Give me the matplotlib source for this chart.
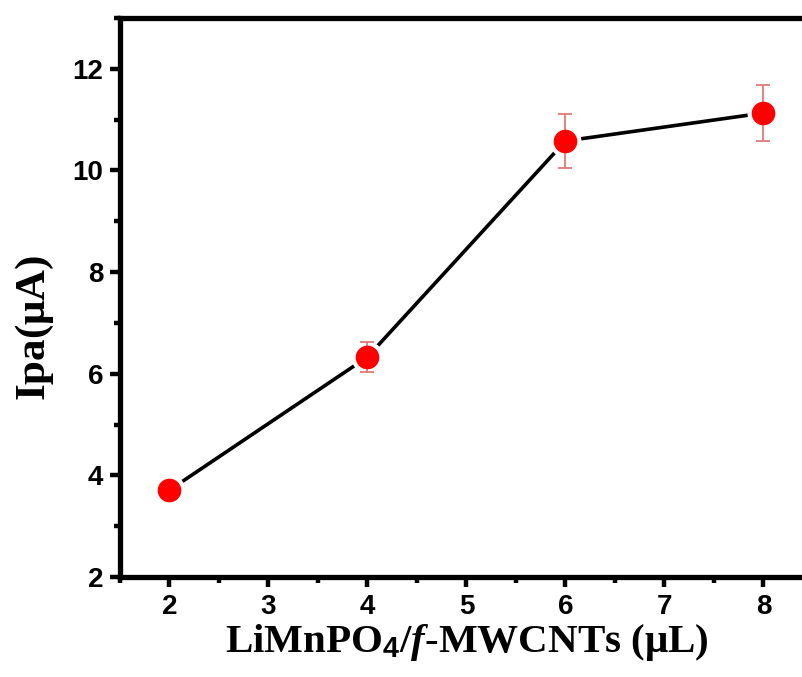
import matplotlib
matplotlib.use('Agg')
from matplotlib import pyplot as plt
from matplotlib.ticker import MultipleLocator

# volume of LiMnPO4/f-MWCNTs (uL) vs anodic peak current (uA)
volume = [2, 4, 6, 8]
ipa = [3.71, 6.33, 10.58, 11.13]
ipa_err = [0.0, 0.30, 0.53, 0.55]

plt.rcParams['mathtext.fontset'] = 'custom'
plt.rcParams['mathtext.bf'] = 'Liberation Sans:bold'
plt.rcParams['mathtext.it'] = 'Liberation Serif:italic:bold'
plt.rcParams['mathtext.rm'] = 'Liberation Serif:bold'

fig = plt.figure(figsize=(8.02, 6.77), dpi=100)
ax = fig.add_axes([0.1496, 0.1477, 0.864, 0.8257])

ax.plot(volume, ipa, c='black', lw=2.6, zorder=1)
ax.plot(volume, ipa, 'o', ms=22, mfc='white', mec='white', zorder=2)
ax.errorbar(volume, ipa, yerr=ipa_err, fmt='none', ecolor='#e07a7a',
            elinewidth=1.3, capsize=5, capthick=1.3, zorder=3)
ax.plot(volume, ipa, 'o', ms=16, mfc='#ff0000', mec='#ff0000', zorder=4)

ax.set_xlim(1.5, 8.5)
ax.set_ylim(2, 13)
ax.xaxis.set_major_locator(MultipleLocator(1))
ax.xaxis.set_minor_locator(MultipleLocator(0.5))
ax.yaxis.set_major_locator(MultipleLocator(2))
ax.yaxis.set_minor_locator(MultipleLocator(1))

for side in ax.spines.values():
    side.set_linewidth(3.8)
ax.tick_params(which='both', direction='out', width=3.2, top=False, right=False)
ax.tick_params(which='major', length=7, labelsize=20, pad=5)
ax.tick_params(which='minor', length=4)
for lbl in ax.get_xticklabels() + ax.get_yticklabels():
    lbl.set_fontfamily('Liberation Sans')
    lbl.set_fontweight('bold')

ax.set_xlabel(r'LiMnPO$_\mathbf{4}$/$\mathit{f}$-MWCNTs ($\mathrm{\mu}$L)',
              fontsize=29.5, fontfamily='Liberation Serif', fontweight='bold',
              labelpad=2)
ax.set_ylabel(r'Ipa($\mathrm{\mu}$A)', fontsize=31,
              fontfamily='Liberation Serif', fontweight='bold')
ax.yaxis.set_label_coords(-0.093, 0.445)

fig.savefig('out.png', dpi=100)
